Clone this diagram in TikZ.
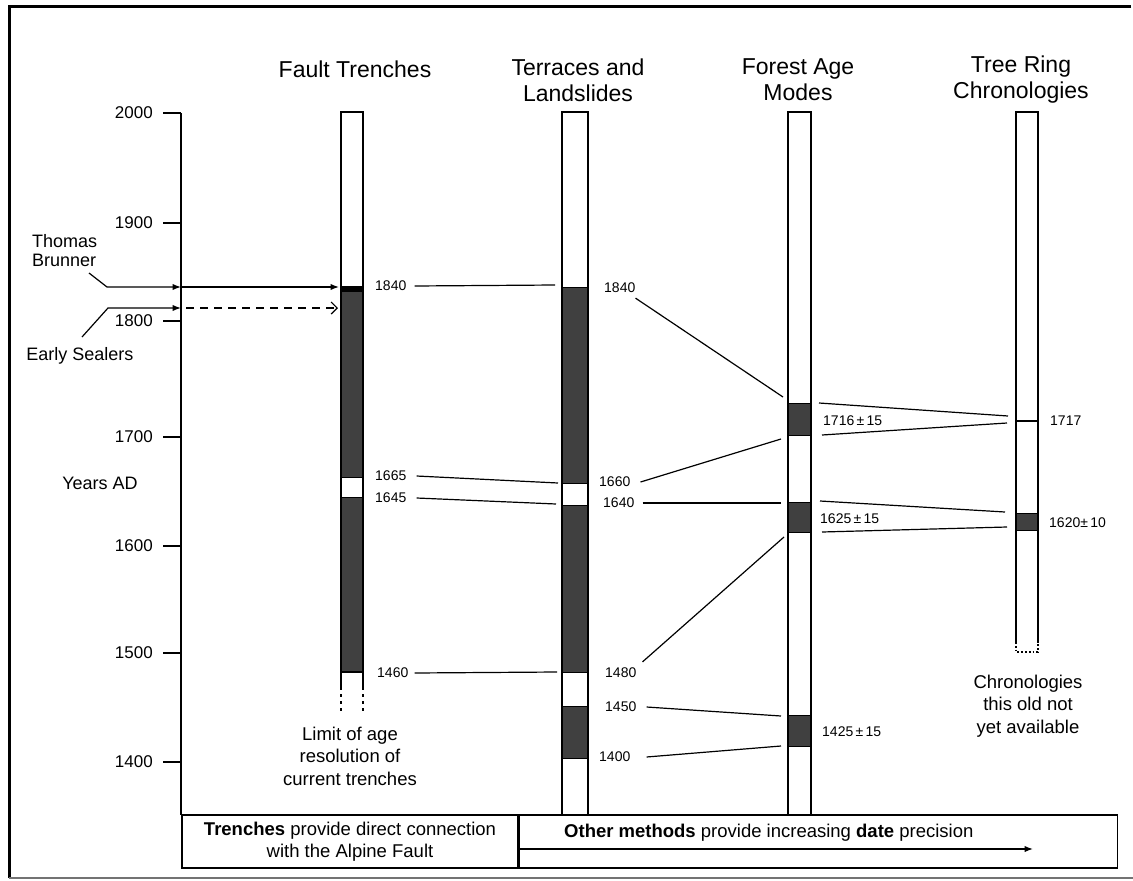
\documentclass[tikz,border=0pt]{standalone}
\usepackage{fontspec}
\setmainfont{Liberation Sans}
\usetikzlibrary{arrows.meta, positioning}

\newcommand{\fsz}[1]{\fontsize{#1}{#1}\selectfont}

\begin{document}
\begin{tikzpicture}[
  x=1pt, y=-1pt, >=Latex,
  frame/.style = {line width=3pt},
  bar/.style   = {draw, line width=1.8pt},
  band/.style  = {fill=black!75, draw, line width=1pt},
  link/.style  = {line width=1.2pt},
  axlab/.style = {anchor=east, inner sep=0pt, font=\fsz{17}},
  yr/.style    = {anchor=west, inner sep=0pt, font=\fsz{14}},
  head/.style  = {align=center, inner sep=0pt, font=\fontsize{23}{26}\selectfont},
  note/.style  = {align=center, inner sep=0pt, font=\fontsize{18.5}{22.5}\selectfont},
]
\useasboundingbox (0,0) rectangle (1133,881);

%── Frame ─────────────────────────────────────────────────────────────────────
\draw[frame] (1131,6) -- (9,6) -- (9,878);
\draw[line width=2pt, black!55] (9,878) -- (1133,878);

%── Column headers ────────────────────────────────────────────────────────────
\node[head] (hft) at (355,69) {Fault Trenches};
\node[head] (htl) at (578,80) {Terraces and\\Landslides};
\node[head] (hfa) at (798,80) {Forest Age\\Modes};
\node[head] (htr) at (1021,80) {Tree Ring\\Chronologies};

%── Year axis ─────────────────────────────────────────────────────────────────
\draw[link] (181,113) -- (181,815);
\foreach \yr/\yy in {2000/113, 1900/223, 1800/321, 1700/437, 1600/546, 1500/653, 1400/762} {
  \draw[link] (163,\yy) -- (181,\yy);
  \node[axlab] (ax\yr) at (153,\yy) {\yr};
}
\node[note, font=\fsz{18}] (yad) at (100,483) {Years AD};

%── Fault Trenches bar (x = 341..363) ─────────────────────────────────────────
\filldraw[band] (341,286) rectangle (363,477);
\filldraw[band] (341,497) rectangle (363,672);
\fill (341,286) rectangle (363,292);
\draw[bar] (341,112) rectangle (363,672);
\draw[bar] (341,672) -- (341,690) (363,672) -- (363,690);
\draw[bar, dash pattern=on 3pt off 4pt] (341,694) -- (341,714) (363,694) -- (363,714);

%── Terraces and Landslides bar (x = 562..588) ────────────────────────────────
\filldraw[band] (562,287) rectangle (588,483);
\filldraw[band] (562,505) rectangle (588,672);
\filldraw[band] (562,706) rectangle (588,758);
\draw[bar] (562,815) -- (562,112) -- (588,112) -- (588,815);

%── Forest Age Modes bar (x = 788..811) ───────────────────────────────────────
\filldraw[band] (788,403) rectangle (811,435);
\filldraw[band] (788,502) rectangle (811,532);
\filldraw[band] (788,715) rectangle (811,746);
\draw[bar] (788,815) -- (788,112) -- (811,112) -- (811,815);

%── Tree Ring bar (x = 1016..1038) ────────────────────────────────────────────
\filldraw[band] (1016,513) rectangle (1038,530);
\draw[link] (1016,421) -- (1038,421);
\draw[bar] (1016,642) -- (1016,112) -- (1038,112) -- (1038,642);
\draw[bar, dotted] (1016,642) -- (1016,652) -- (1038,652) -- (1038,642);

%── Date labels ───────────────────────────────────────────────────────────────
\node[yr] (ft1840) at (375,286) {1840};
\node[yr] (ft1665) at (375,476) {1665};
\node[yr] (ft1645) at (375,498) {1645};
\node[yr] (ft1460) at (377,673) {1460};

\node[yr] (tl1840) at (604,288) {1840};
\node[yr] (tl1660) at (599,482) {1660};
\node[yr] (tl1640) at (603,503) {1640};
\node[yr] (tl1480) at (605,673) {1480};
\node[yr] (tl1450) at (605,707) {1450};
\node[yr] (tl1400) at (599,757) {1400};

\node[yr] (fa1716) at (823,421) {1716\,±\,15};
\node[yr] (fa1625) at (820,519) {1625\,±\,15};
\node[yr] (fa1425) at (822,732) {1425\,±\,15};

\node[yr] (tr1717) at (1050,421) {1717};
\node[yr] (tr1620) at (1049,523) {1620±\,10};

%── Bar-side coordinates ──────────────────────────────────────────────────────
\coordinate (tl1840w)  at (555,285);
\coordinate (tl1660w)  at (558,483);
\coordinate (tl1640w)  at (556,504);
\coordinate (tl1480w)  at (557,672);
\coordinate (fa1716nw) at (783,397);
\coordinate (fa1716sw) at (781,439);
\coordinate (fa1625nw) at (781,503);
\coordinate (fa1625sw) at (784,537);
\coordinate (fa1425nw) at (781,716);
\coordinate (fa1425sw) at (781,746);
\coordinate (fa1716ne) at (819,403);
\coordinate (fa1716se) at (822,435);
\coordinate (fa1625ne) at (820,501);
\coordinate (fa1625se) at (822,532);
\coordinate (tr1717nw) at (1008,416);
\coordinate (tr1717sw) at (1007,423);
\coordinate (tr1620nw) at (1005,512);
\coordinate (tr1620sw) at (1007,527);

%── Correlation links ─────────────────────────────────────────────────────────
\draw[link] ([xshift=8pt]ft1840.east)  -- (tl1840w);
\draw[link] ([xshift=10pt]ft1665.east) -- (tl1660w);
\draw[link] ([xshift=10pt]ft1645.east) -- (tl1640w);
\draw[link] ([xshift=6pt]ft1460.east)  -- (tl1480w);

\draw[link] ([yshift=-5pt]tl1840.south east)       -- (fa1716nw);
\draw[link] ([xshift=10pt]tl1660.east)              -- (fa1716sw);
\draw[link] ([xshift=8pt]tl1640.east)               -- (fa1625nw);
\draw[link] ([shift={(6pt,6pt)}]tl1480.north east)  -- (fa1625sw);
\draw[link] ([xshift=10pt]tl1450.east)              -- (fa1425nw);
\draw[link] ([xshift=16pt]tl1400.east)              -- (fa1425sw);

\draw[link] (fa1716ne) -- (tr1717nw);
\draw[link] (fa1716se) -- (tr1717sw);
\draw[link] (fa1625ne) -- (tr1620nw);
\draw[link] (fa1625se) -- (tr1620sw);

%── Historical markers ────────────────────────────────────────────────────────
\node[note, align=left, anchor=west, font=\fontsize{18}{19}\selectfont] (brunner) at (32,251) {Thomas\\Brunner};
\node[note, font=\fsz{18}] (sealers) at (80,356) {Early Sealers};

\coordinate (tbs)     at (89,273);
\coordinate (tbk)     at (107,287);
\coordinate (ax1840)  at (181,287);
\coordinate (ft1840w) at (339,287);
\coordinate (ess)     at (82,337);
\coordinate (esk)     at (108,308);
\coordinate (ax1810)  at (181,308);
\coordinate (ft1810w) at (338,308);

\draw[link, ->] (tbs) -- (tbk) -- (ax1840);
\draw[link, ->] (ax1840) -- (ft1840w);
\draw[link, ->] (ess) -- (esk) -- (ax1810);
\draw[link, dash pattern=on 8pt off 6pt, -{Straight Barb[length=6pt]}] ([xshift=5pt]ax1810) -- (ft1810w);

%── Notes ─────────────────────────────────────────────────────────────────────
\node[note] (limit)   at (350,756)  {Limit of age\\resolution of\\current trenches};
\node[note] (nochron) at (1028,706) {Chronologies\\this old not\\yet available};

%── Bottom box ────────────────────────────────────────────────────────────────
\node[note, draw, link, minimum width=336pt, minimum height=53pt] (trench) at (350,841.5)
  {\textbf{Trenches} provide direct connection\\with the Alpine Fault};
\node[draw, link, minimum width=598pt, minimum height=53pt, anchor=west] (others) at (trench.east) {};
\node[anchor=west, inner sep=0pt, font=\fsz{18.5}] (othtxt) at (564,833)
  {\textbf{Other methods} provide increasing \textbf{date} precision};
\coordinate (prec) at (1033,849);
\draw[link, ->] (others.west |- prec) -- (prec);

\end{tikzpicture}
\end{document}
